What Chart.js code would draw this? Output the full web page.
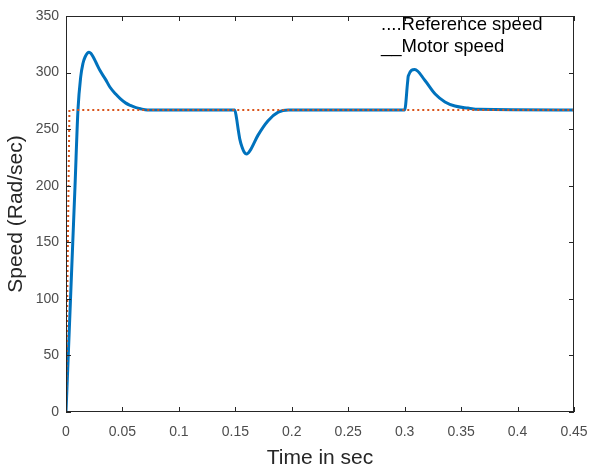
<!DOCTYPE html>
<html>
<head>
<meta charset="utf-8">
<script src="https://cdn.jsdelivr.net/npm/chart.js@4"></script>
<style>
  body { margin: 0; background: #fff; }
  #wrap { width: 591px; height: 468px; }
</style>
</head>
<body>
<div id="wrap"><canvas id="speedChart" width="591" height="468"></canvas></div>
<script>
// Reference speed (dotted)
const refTime = [0, 0.003, 0.45];
const refSpeed = [0, 267, 267];

// Motor speed (solid)
const motorTime = [0, 0.002, 0.004, 0.006, 0.008, 0.0106, 0.013, 0.015, 0.017, 0.0204, 0.022,
    0.024, 0.027, 0.030, 0.035, 0.039, 0.044, 0.048, 0.053, 0.057, 0.062, 0.066, 0.072,
    0.1495, 0.151, 0.1525, 0.154, 0.156, 0.158, 0.160, 0.163, 0.170, 0.179, 0.188, 0.197,
    0.300, 0.3026, 0.3032, 0.309, 0.318, 0.327, 0.3357, 0.3445, 0.356, 0.366, 0.45];
const motorSpeed = [0, 50, 100, 150, 200, 267, 296, 308, 314, 318, 317,
    314, 308, 302, 294, 287, 281, 277, 273, 271, 269, 268, 267,
    267, 260, 250, 241, 234, 229.5, 228, 231, 244.5, 257.5, 265, 267,
    267, 291.5, 297, 302.7, 293, 281, 274, 270.4, 268.6, 267.5, 267];

const xTicks = [0, 0.05, 0.1, 0.15, 0.2, 0.25, 0.3, 0.35, 0.4, 0.45];
const legendLines = ['....Reference speed', '__Motor speed'];

const toPoints = (xs, ys) => xs.map((x, i) => ({ x: x, y: ys[i] }));

// MATLAB-like box with inward tick marks
const boxPlugin = {
    id: 'box',
    afterDraw(chart) {
        const { ctx, chartArea: a, scales } = chart;
        ctx.save();
        ctx.strokeStyle = '#262626';
        ctx.lineWidth = 1;
        ctx.strokeRect(a.left + 0.5, a.top + 0.5, a.right - a.left - 1, a.bottom - a.top - 1);
        ctx.beginPath();
        scales.x.ticks.forEach(t => {
            const px = Math.round(scales.x.getPixelForValue(t.value)) + 0.5;
            ctx.moveTo(px, a.bottom); ctx.lineTo(px, a.bottom - 5);
            ctx.moveTo(px, a.top); ctx.lineTo(px, a.top + 5);
        });
        scales.y.ticks.forEach(t => {
            const py = Math.round(scales.y.getPixelForValue(t.value)) + 0.5;
            ctx.moveTo(a.left, py); ctx.lineTo(a.left + 5, py);
            ctx.moveTo(a.right, py); ctx.lineTo(a.right - 5, py);
        });
        ctx.stroke();
        // text legend
        ctx.fillStyle = '#000';
        ctx.font = '18.5px "Liberation Sans", Arial, sans-serif';
        ctx.textBaseline = 'alphabetic';
        ctx.fillText(legendLines[0], 381, 30);
        ctx.fillText(legendLines[1], 381, 52);
        ctx.restore();
    }
};

const tickFont = { family: '"Liberation Sans", Arial, sans-serif', size: 14 };
const titleFont = { family: '"Liberation Sans", Arial, sans-serif', size: 21 };

new Chart(document.getElementById('speedChart').getContext('2d'), {
    type: 'line',
    data: {
        datasets: [{
            label: 'Reference speed',
            data: toPoints(refTime, refSpeed),
            borderColor: '#D95319',
            borderWidth: 2,
            borderDash: [2, 3],
            pointRadius: 0,
            fill: false
        }, {
            label: 'Motor speed',
            data: toPoints(motorTime, motorSpeed),
            borderColor: '#0072BD',
            borderWidth: 3,
            pointRadius: 0,
            cubicInterpolationMode: 'monotone',
            fill: false
        }]
    },
    options: {
        responsive: false,
        animation: false,
        layout: { padding: { top: 16, right: 17, left: 0, bottom: 0 } },
        plugins: { legend: { display: false }, tooltip: { enabled: false } },
        scales: {
            x: {
                type: 'linear',
                min: 0, max: 0.45,
                afterBuildTicks: s => { s.ticks = xTicks.map(v => ({ value: v })); },
                grid: { display: false, drawTicks: false },
                border: { display: false },
                ticks: { color: '#4d4d4d', font: tickFont, padding: 12, maxRotation: 0,
                    callback: v => String(+v.toFixed(2)) },
                title: { display: true, text: 'Time in sec', color: '#262626', font: titleFont, padding: { top: 6, bottom: -3 } },
                afterFit: s => { s.height = 56; s.paddingLeft = 0; s.paddingRight = 0; }
            },
            y: {
                min: 0, max: 350,
                ticks: { stepSize: 50, color: '#4d4d4d', font: tickFont, padding: 7 },
                grid: { display: false, drawTicks: false },
                border: { display: false },
                title: { display: true, text: 'Speed (Rad/sec)', color: '#262626', font: titleFont, padding: { top: 4, bottom: 4 } },
                afterFit: s => { s.width = 66; }
            }
        }
    },
    plugins: [boxPlugin]
});
</script>
</body>
</html>
